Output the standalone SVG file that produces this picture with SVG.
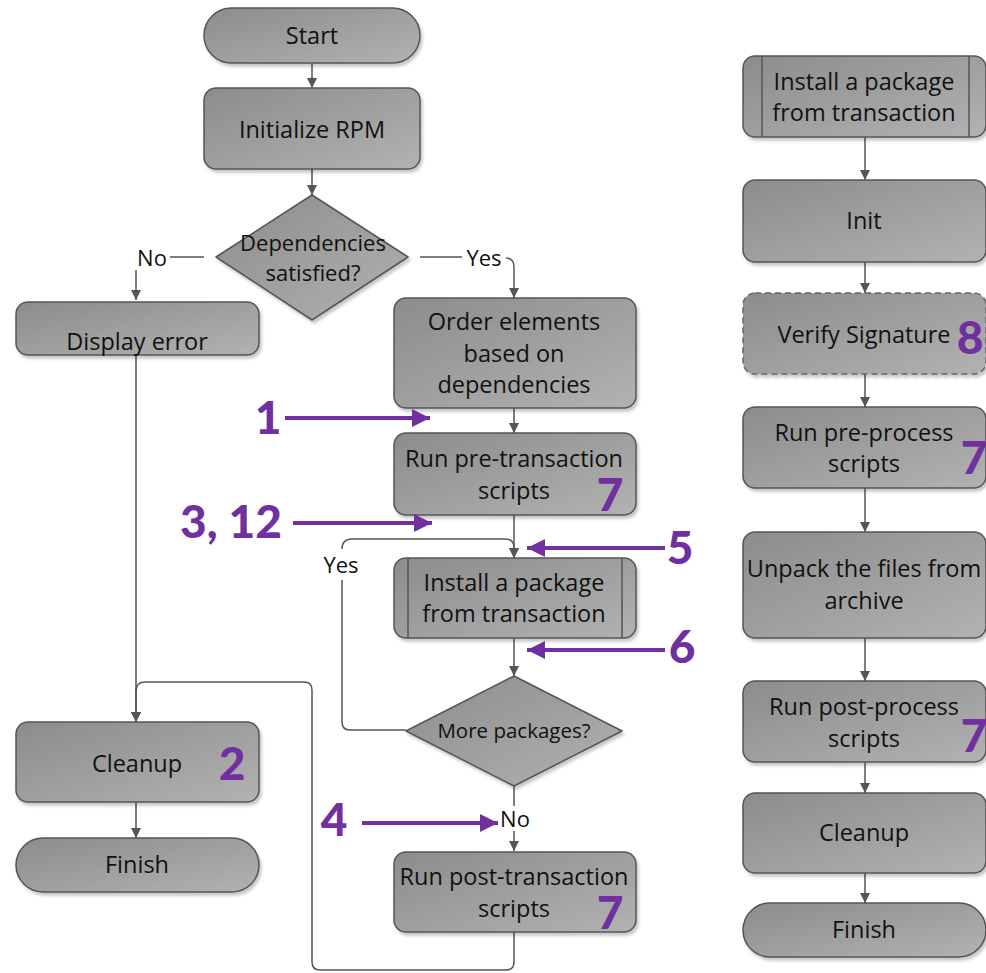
<svg xmlns="http://www.w3.org/2000/svg" width="986" height="973" viewBox="0 0 986 973">
  <defs>
    <linearGradient id="boxFill" x1="0" y1="0" x2="1" y2="1">
      <stop offset="0" stop-color="#8c8c8c"/>
      <stop offset="1" stop-color="#b2b2b2"/>
    </linearGradient>
    <filter id="shadow" x="-10%" y="-10%" width="125%" height="130%">
      <feDropShadow dx="2" dy="3" stdDeviation="1.5" flood-color="#000" flood-opacity="0.22"/>
    </filter>
    <marker id="arrow" viewBox="0 0 10 10" refX="10" refY="5" markerWidth="10" markerHeight="10" markerUnits="userSpaceOnUse" orient="auto">
      <path d="M0,0 L10,5 L0,10 z" fill="#555"/>
    </marker>
    <marker id="parrow" viewBox="0 0 16 16" refX="16" refY="8" markerWidth="18" markerHeight="18" markerUnits="userSpaceOnUse" orient="auto">
      <path d="M0,0 L16,8 L0,16 z" fill="#7030a0"/>
    </marker>
  </defs>
  <style>
    .box { fill: url(#boxFill); stroke: #555; stroke-width: 1.5; filter: url(#shadow); }
    .dashed { stroke-dasharray: 6 4; stroke: #666; }
    .bar { stroke: #555; stroke-width: 1.5; }
    .lbl { font-family: "Open Sans", "Noto Sans", sans-serif; font-size: 23.5px; fill: #111; text-anchor: middle; dominant-baseline: central; }
    .mid { font-size: 22px; }
    .small { font-size: 20.5px; }
    .edge { fill: none; stroke: #555; stroke-width: 1.5; }
    .edgeA { fill: none; stroke: #555; stroke-width: 1.5; marker-end: url(#arrow); }
    .callout { fill: none; stroke: #7030a0; stroke-width: 4; marker-end: url(#parrow); }
    .num { font-family: Lato, "Open Sans", sans-serif; font-weight: 900; font-size: 46px; fill: #7030a0; text-anchor: middle; dominant-baseline: central; }
  </style>

  <!-- connectors -->
  <g id="connectors">
    <path class="edgeA" d="M312 63 V88"/>
    <path class="edgeA" d="M312 169 V195"/>
    <path class="edge" d="M204 257 H170"/>
    <path class="edgeA" d="M136 270 V300"/>
    <path class="edge" d="M420 257 H462"/>
    <path class="edgeA" d="M506 258 Q514 258 514 267 V298"/>
    <path class="edgeA" d="M514 408 V433"/>
    <path class="edgeA" d="M514 515 V558"/>
    <path class="edge" d="M406 730 H350 Q342 730 342 722 V580"/>
    <path class="edgeA" d="M342 549 Q342 539 352 539 H505 Q514 539 514 548 V558"/>
    <path class="edgeA" d="M514 638 V676"/>
    <path class="edge" d="M514 786 V806"/>
    <path class="edgeA" d="M514 831 V851"/>
    <path class="edgeA" d="M514 932 V962 Q514 970 506 970 H320 Q312 970 312 962 V690 Q312 682 304 682 H145 Q136 682 136 691 V722"/>
    <path class="edgeA" d="M136 355 V722"/>
    <path class="edgeA" d="M136 802 V838"/>

    <path class="edgeA" d="M865 137 V180"/>
    <path class="edgeA" d="M865 262 V293"/>
    <path class="edgeA" d="M865 374 V407"/>
    <path class="edgeA" d="M865 488 V532"/>
    <path class="edgeA" d="M865 638 V681"/>
    <path class="edgeA" d="M865 762 V793"/>
    <path class="edgeA" d="M865 873 V903"/>

    <text class="lbl mid" x="152" y="257">No</text>
    <text class="lbl mid" x="484" y="257">Yes</text>
    <text class="lbl mid" x="341" y="564">Yes</text>
    <text class="lbl mid" x="515" y="818">No</text>
  </g>

  <!-- main flow -->
  <g id="start"><rect class="box" x="204" y="8" width="216" height="55" rx="27.5"/><text class="lbl" x="312" y="35">Start</text></g>
  <g id="init-rpm"><rect class="box" x="204" y="88" width="216" height="81" rx="12"/><text class="lbl" x="312" y="129">Initialize RPM</text></g>
  <g id="deps-check"><polygon class="box" stroke-linejoin="round" points="312,195 408,257 312,320 216,257"/><text class="lbl mid" x="313" y="242">Dependencies</text><text class="lbl mid" x="313" y="272">satisfied?</text></g>
  <g id="display-error"><rect class="box" x="16" y="302" width="243" height="53" rx="12"/><text class="lbl" x="137" y="341">Display error</text></g>
  <g id="order-elements"><rect class="box" x="394" y="298" width="242" height="110" rx="12"/><text class="lbl" x="514" y="321">Order elements</text><text class="lbl" x="514" y="353">based on</text><text class="lbl" x="514" y="384">dependencies</text></g>
  <g id="pre-transaction"><rect class="box" x="394" y="433" width="242" height="82" rx="12"/><text class="lbl" x="514" y="458">Run pre-transaction</text><text class="lbl" x="514" y="490">scripts</text></g>
  <g id="install-package"><rect class="box" x="394" y="558" width="242" height="80" rx="12"/><line class="bar" x1="408" y1="558" x2="408" y2="638"/><line class="bar" x1="622" y1="558" x2="622" y2="638"/><text class="lbl" x="514" y="582">Install a package</text><text class="lbl" x="514" y="613">from transaction</text></g>
  <g id="more-packages"><polygon class="box" stroke-linejoin="round" points="514,676 622,731 514,786 406,731"/><text class="lbl small" x="514" y="730">More packages?</text></g>
  <g id="post-transaction"><rect class="box" x="394" y="852" width="242" height="80" rx="12"/><text class="lbl" x="514" y="876">Run post-transaction</text><text class="lbl" x="514" y="908">scripts</text></g>
  <g id="cleanup"><rect class="box" x="16" y="722" width="243" height="80" rx="12"/><text class="lbl" x="137" y="763">Cleanup</text></g>
  <g id="finish"><rect class="box" x="16" y="838" width="243" height="54" rx="27"/><text class="lbl" x="137" y="864">Finish</text></g>

  <!-- package install sub-flow -->
  <g id="sub-install"><rect class="box" x="743" y="56" width="243" height="81" rx="12"/><line class="bar" x1="762" y1="56" x2="762" y2="137"/><line class="bar" x1="969" y1="56" x2="969" y2="137"/><text class="lbl" x="864" y="81">Install a package</text><text class="lbl" x="864" y="112">from transaction</text></g>
  <g id="sub-init"><rect class="box" x="743" y="180" width="243" height="82" rx="12"/><text class="lbl" x="864" y="220">Init</text></g>
  <g id="sub-verify"><rect class="box dashed" x="743" y="293" width="243" height="81" rx="12"/><text class="lbl" x="864" y="334">Verify Signature</text></g>
  <g id="sub-pre-process"><rect class="box" x="743" y="407" width="243" height="81" rx="12"/><text class="lbl" x="864" y="432">Run pre-process</text><text class="lbl" x="864" y="463">scripts</text></g>
  <g id="sub-unpack"><rect class="box" x="743" y="532" width="243" height="106" rx="12"/><text class="lbl" x="864" y="568">Unpack the files from</text><text class="lbl" x="864" y="600">archive</text></g>
  <g id="sub-post-process"><rect class="box" x="743" y="681" width="243" height="81" rx="12"/><text class="lbl" x="864" y="706">Run post-process</text><text class="lbl" x="864" y="738">scripts</text></g>
  <g id="sub-cleanup"><rect class="box" x="743" y="793" width="243" height="80" rx="12"/><text class="lbl" x="864" y="832">Cleanup</text></g>
  <g id="sub-finish"><rect class="box" x="743" y="903" width="243" height="54" rx="27"/><text class="lbl" x="864" y="929">Finish</text></g>

  <!-- step callouts -->
  <g id="callouts">
    <path class="callout" d="M285 418 H430"/>
    <path class="callout" d="M293 523 H432"/>
    <path class="callout" d="M665 548 H527"/>
    <path class="callout" d="M665 650 H527"/>
    <path class="callout" d="M362 823 H498"/>
    <text class="num" x="268" y="416">1</text>
    <text class="num" x="231" y="520">3, 12</text>
    <text class="num" x="680" y="546">5</text>
    <text class="num" x="682" y="645">6</text>
    <text class="num" x="334" y="818">4</text>
    <text class="num" x="232" y="762">2</text>
    <text class="num" x="610" y="493">7</text>
    <text class="num" x="610" y="911">7</text>
    <text class="num" x="970" y="336">8</text>
    <text class="num" x="974" y="456">7</text>
    <text class="num" x="974" y="734">7</text>
  </g>
</svg>
